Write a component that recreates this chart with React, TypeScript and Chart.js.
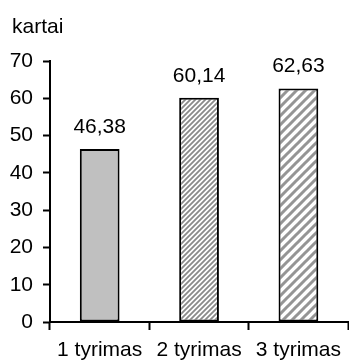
import React, { useEffect, useRef } from "react";
import { Chart, registerables } from "chart.js";

Chart.register(...registerables);

const categories = ["1 tyrimas", "2 tyrimas", "3 tyrimas"];
const values = [46.38, 60.14, 62.63];
const yTicks = [0, 10, 20, 30, 40, 50, 60, 70];
const axisTitle = "kartai";

const FONT = "'Liberation Sans', Arial, sans-serif";
const SIZE = 21;

function stripePattern(size: number, width: number, color: string): CanvasPattern | string {
  const c = document.createElement("canvas");
  c.width = size;
  c.height = size;
  const g = c.getContext("2d");
  if (!g) return color;
  g.fillStyle = "#ffffff";
  g.fillRect(0, 0, size, size);
  g.strokeStyle = color;
  g.lineWidth = width;
  g.beginPath();
  g.moveTo(-1, size + 1);
  g.lineTo(size + 1, -1);
  g.moveTo(-size / 2 - 1, size / 2 + 1);
  g.lineTo(size / 2 + 1, -size / 2 - 1);
  g.moveTo(size / 2 - 1, size * 1.5 + 1);
  g.lineTo(size * 1.5 + 1, size / 2 - 1);
  g.stroke();
  const p = g.createPattern(c, "repeat");
  return p || color;
}

const valueLabels = {
  id: "valueLabels",
  afterDatasetsDraw(chart: any) {
    const ctx = chart.ctx;
    const meta = chart.getDatasetMeta(0);
    ctx.save();
    ctx.fillStyle = "#000";
    ctx.font = `${SIZE}px ${FONT}`;
    ctx.textAlign = "center";
    ctx.textBaseline = "alphabetic";
    meta.data.forEach((bar: any, i: number) => {
      const text = values[i].toFixed(2).replace(".", ",");
      ctx.fillText(text, bar.x, bar.y - 16);
    });
    ctx.restore();
  },
};

const yTitle = {
  id: "yTitle",
  afterDraw(chart: any) {
    const ctx = chart.ctx;
    ctx.save();
    ctx.fillStyle = "#000";
    ctx.font = `${SIZE}px ${FONT}`;
    ctx.textAlign = "left";
    ctx.textBaseline = "alphabetic";
    ctx.fillText(axisTitle, 12, 33);
    ctx.restore();
  },
};

export default function App() {
  const ref = useRef<HTMLCanvasElement | null>(null);

  useEffect(() => {
    if (!ref.current) return;
    const fills = [
      "#c0c0c0",
      stripePattern(5, 1.8, "#8a8a8a"),
      stripePattern(9, 3, "#959595"),
    ];
    const chart = new Chart(ref.current, {
      type: "bar",
      data: {
        labels: categories,
        datasets: [
          {
            data: values,
            backgroundColor: fills as any,
            borderColor: "#000",
            borderWidth: 2,
            borderSkipped: false,
            barPercentage: 0.4,
            categoryPercentage: 1,
          },
        ],
      },
      options: {
        animation: false,
        responsive: false,
        maintainAspectRatio: false,
        layout: { padding: { top: 61, left: 0, right: 0, bottom: 0 } },
        plugins: {
          legend: { display: false },
          tooltip: { enabled: false },
        },
        scales: {
          x: {
            offset: true,
            grid: {
              offset: true,
              drawOnChartArea: false,
              drawTicks: true,
              tickLength: 8,
              tickWidth: 2,
              color: "#000",
            },
            border: { display: true, color: "#000", width: 2 },
            ticks: {
              color: "#000",
              font: { family: FONT, size: SIZE },
              padding: 8,
              maxRotation: 0,
              autoSkip: false,
            },
            afterFit(scale: any) {
              scale.height = 41;
            },
          },
          y: {
            min: 0,
            max: 70,
            afterBuildTicks(scale: any) {
              scale.ticks = yTicks.map((v) => ({ value: v }));
            },
            grid: {
              drawOnChartArea: false,
              drawTicks: true,
              tickLength: 7,
              tickWidth: 2,
              color: "#000",
            },
            border: { display: true, color: "#000", width: 2 },
            ticks: {
              color: "#000",
              font: { family: FONT, size: SIZE },
              padding: 10,
            },
            afterFit(scale: any) {
              scale.width = 50;
            },
          },
        },
      },
      plugins: [valueLabels, yTitle],
    });
    return () => chart.destroy();
  }, []);

  return (
    <div style={{ position: "fixed", left: 0, top: 0, width: 349, height: 363, background: "#fff" }}>
      <canvas ref={ref} width={349} height={363} style={{ display: "block" }} />
    </div>
  );
}
